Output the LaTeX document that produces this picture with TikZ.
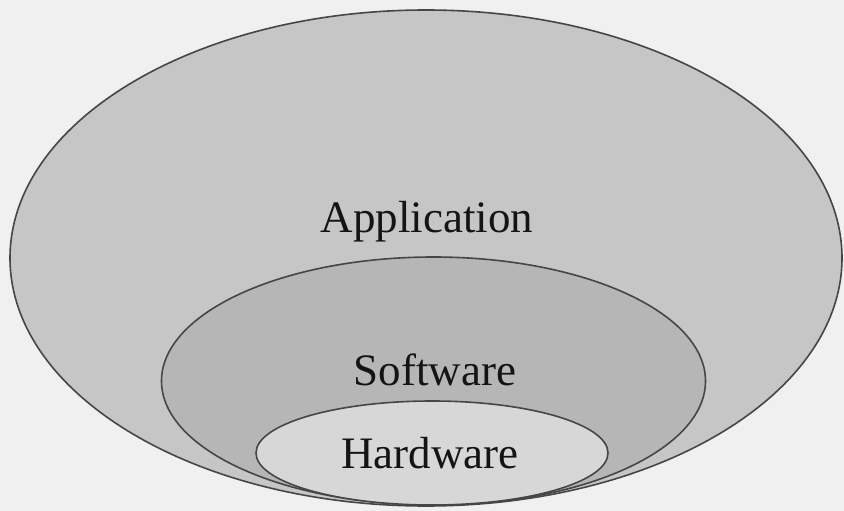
\documentclass[tikz,border=0pt]{standalone}
\usepackage{fontspec}
\setmainfont{Liberation Serif}
\definecolor{paper}{RGB}{240,240,240}
\definecolor{appfill}{RGB}{198,198,198}
\definecolor{swfill}{RGB}{182,182,182}
\definecolor{hwfill}{RGB}{215,215,215}
\definecolor{rim}{RGB}{70,70,70}
\begin{document}
\begin{tikzpicture}[x=1pt,y=-1pt,
  layer/.style={draw=rim,line width=1.6pt},
  label/.style={font=\fontsize{45}{50}\selectfont,text=black!92,anchor=base,inner sep=0pt}]
  % canvas
  \fill[paper] (0,0) rectangle (844,511);
  \useasboundingbox (0,0) rectangle (844,511);
  % nested layers
  \draw[layer,fill=appfill] (426,258) ellipse [x radius=416,y radius=248];
  \draw[layer,fill=swfill] (433.5,381) ellipse [x radius=272,y radius=124];
  \draw[layer,fill=hwfill] (432,453) ellipse [x radius=176,y radius=52];
  % layer names
  \node[label] (app) at (427,232) {Application};
  \node[label] (sw) at (435,385) {Software};
  \node[label] (hw) at (430,468) {Hardware};
\end{tikzpicture}
\end{document}
